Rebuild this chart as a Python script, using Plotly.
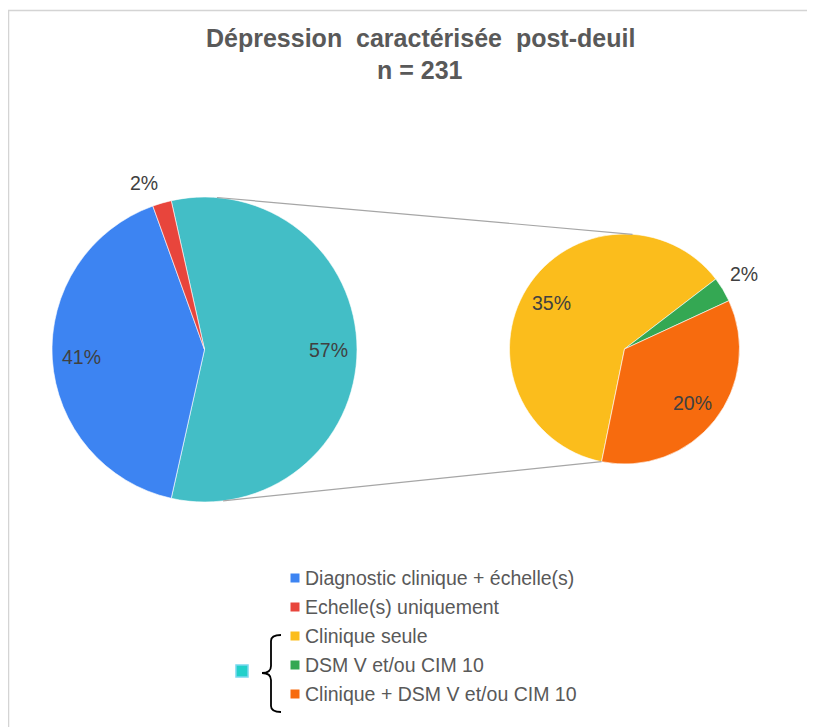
import math
import plotly.graph_objects as go

# data (percent of n = 231)
main_labels = ["Autres", "Diagnostic clinique + échelle(s)", "Echelle(s) uniquement"]
main_values = [None, 41, 2]  # first slice = sum of the secondary pie
sub_labels = ["Clinique seule", "DSM V et/ou CIM 10", "Clinique + DSM V et/ou CIM 10"]
sub_values = [35, 2, 20]
main_values[0] = sum(sub_values)

main_colors = ["#43bec6", "#3d84f2", "#e8453c"]
sub_colors = ["#fbbd1c", "#34a853", "#f76b0e"]

legend_labels = main_labels[1:] + sub_labels
legend_colors = main_colors[1:] + sub_colors

W, H = 815, 727
OFF = 8  # page body margin


def px(x):
    return (x - OFF) / W


def py(y):
    return 1 - (y - OFF) / H


def on_circle(cx, cy, r, deg):
    a = math.radians(deg)
    return cx + r * math.sin(a), cy - r * math.cos(a)


FONT = "Liberation Sans, Arial"

# geometry in (screen) pixels
mc, mr = (204.5, 349.5), 152.5
sc, sr = (624.5, 349.0), 115.0
main_rot = 90 - main_values[0] / sum(main_values) * 180
sub_rot = 191.5

fig = go.Figure()

fig.add_trace(go.Pie(
    labels=main_labels, values=main_values, sort=False, direction="clockwise",
    rotation=main_rot, textinfo="none",
    marker=dict(colors=main_colors, line=dict(color="white", width=0.6)),
    domain=dict(x=[px(mc[0] - mr), px(mc[0] + mr)], y=[py(mc[1] + mr), py(mc[1] - mr)]),
    showlegend=False, hoverinfo="label+value",
))

fig.add_trace(go.Pie(
    labels=sub_labels, values=sub_values, sort=False, direction="clockwise",
    rotation=sub_rot, textinfo="none",
    marker=dict(colors=sub_colors, line=dict(color="white", width=0.6)),
    domain=dict(x=[px(sc[0] - sr), px(sc[0] + sr)], y=[py(sc[1] + sr), py(sc[1] - sr)]),
    showlegend=False, hoverinfo="label+value",
))

annotations = []


def slice_labels(values, rot, c, r, k_in):
    total = sum(values)
    start = rot
    for v in values:
        span = 360 * v / total
        mid = start + span / 2
        start += span
        if v / total < 0.05:
            # small slice: label outside, corner touching the rim
            x, y = on_circle(c[0], c[1], r * 1.05, mid)
            s = math.sin(math.radians(mid))
            co = math.cos(math.radians(mid))
            xa = "left" if s > 0 else "right"
            ya = "bottom" if co > 0 else "top"
        else:
            x, y = on_circle(c[0], c[1], r * k_in, mid)
            xa, ya = "center", "middle"
        annotations.append(dict(text=f"{v}%", x=px(x), y=py(y), xref="paper", yref="paper",
                                showarrow=False, xanchor=xa, yanchor=ya,
                                font=dict(family=FONT, size=19.5, color="#404040")))


slice_labels(main_values, main_rot, mc, mr, 0.81)
slice_labels(sub_values, sub_rot, sc, sr, 0.75)

shapes = []
# outer chart border
shapes.append(dict(type="rect", xref="paper", yref="paper",
                   x0=px(8.5), x1=px(W + 20), y0=py(H + 20), y1=py(10.5),
                   line=dict(color="#d4d4d4", width=1.5)))

# connector lines between the pies
for a_main, a_sub in [(4.7, 4.0), (173.0, 191.5)]:
    x0, y0 = on_circle(mc[0], mc[1], mr, a_main)
    x1, y1 = on_circle(sc[0], sc[1], sr, a_sub)
    shapes.append(dict(type="line", xref="paper", yref="paper",
                       x0=px(x0), y0=py(y0), x1=px(x1), y1=py(y1),
                       line=dict(color="#a6a6a6", width=1.2)))

# title
annotations += [
    dict(text="<b>Dépression  caractérisée  post-deuil</b>", x=px(420), y=py(38),
         xref="paper", yref="paper", showarrow=False, xanchor="center", yanchor="middle",
         font=dict(family=FONT, size=25, color="#595959")),
    dict(text="<b>n = 231</b>", x=px(420), y=py(70),
         xref="paper", yref="paper", showarrow=False, xanchor="center", yanchor="middle",
         font=dict(family=FONT, size=25, color="#595959")),
]

# legend
for i, (lab, col) in enumerate(zip(legend_labels, legend_colors)):
    yc = 578 + i * 29
    shapes.append(dict(type="rect", xref="paper", yref="paper",
                       x0=px(290.5), x1=px(299.5), y0=py(yc + 4.5), y1=py(yc - 4.5),
                       fillcolor=col, line=dict(width=0)))
    annotations.append(dict(text=lab, x=px(303), y=py(yc), xref="paper", yref="paper",
                            showarrow=False, xanchor="left", yanchor="middle",
                            font=dict(family=FONT, size=19.5, color="#595959")))

# teal square + brace grouping the secondary pie items
shapes.append(dict(type="rect", xref="paper", yref="paper",
                   x0=px(236), x1=px(248), y0=py(677), y1=py(665),
                   fillcolor="#22d0ca", line=dict(color="#7ad7ee", width=1.5)))
path = "M {} {} Q {} {} {} {} L {} {} Q {} {} {} {} Q {} {} {} {} L {} {} Q {} {} {} {}".format(
    px(281), py(635),
    px(271), py(635), px(271), py(641),
    px(271), py(666),
    px(271), py(673), px(262), py(673),
    px(271), py(673), px(271), py(680),
    px(271), py(706),
    px(271), py(712), px(281), py(712),
)
shapes.append(dict(type="path", xref="paper", yref="paper", path=path,
                   line=dict(color="black", width=1.8)))

fig.update_layout(
    width=W, height=H,
    margin=dict(l=0, r=0, t=0, b=0),
    paper_bgcolor="white", plot_bgcolor="white",
    shapes=shapes, annotations=annotations,
)

fig.write_html("out.html")
